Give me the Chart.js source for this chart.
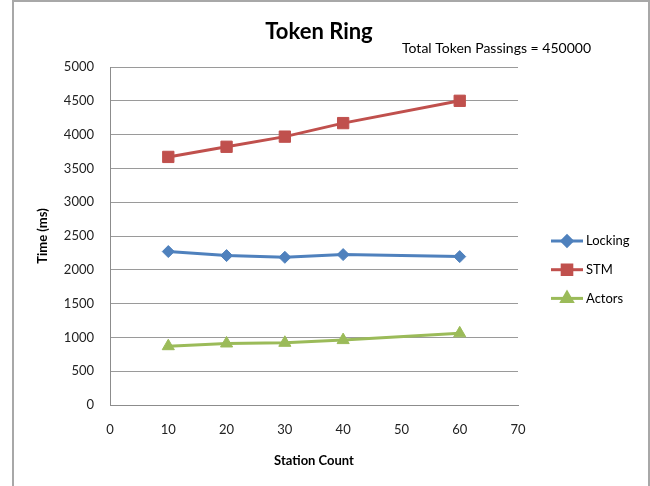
<!DOCTYPE html>
<html>
<head>
<meta charset="utf-8">
<script src="https://cdn.jsdelivr.net/npm/chart.js@4.4.1/dist/chart.umd.min.js"></script>
<style>
  html, body { margin: 0; padding: 0; background: #fff; }
  #wrap { position: relative; width: 650px; height: 486px; overflow: hidden; }
  #frame {
    position: absolute; left: 12px; top: 0; width: 638px; height: 520px;
    border: 2px solid #a8a8a8; box-sizing: border-box; pointer-events: none;
  }
</style>
</head>
<body>
<div id="wrap">
  <canvas id="chart" width="650" height="486"></canvas>
  <div id="frame"></div>
</div>
<script>
// data
const stationCount = [10, 20, 30, 40, 60];
const locking = [2270, 2210, 2185, 2225, 2195];
const stm = [3670, 3820, 3970, 4170, 4500];
const actors = [870, 910, 920, 960, 1060];

const seriesNames = ["Locking", "STM", "Actors"];
const seriesColors = ["#4f81bd", "#c0504d", "#9bbb59"];
const seriesMarkers = ["rectRot", "rect", "triangle"];
const markerSizes = [6, 8, 7];

const FONT = 'Lato, "Open Sans", sans-serif';

const toPoints = (vals) => stationCount.map((x, i) => ({ x, y: vals[i] }));

const makeSet = (i, vals) => ({
  label: seriesNames[i],
  data: toPoints(vals),
  borderColor: seriesColors[i],
  backgroundColor: seriesColors[i],
  borderWidth: 3,
  pointStyle: seriesMarkers[i],
  pointRadius: markerSizes[i],
  pointBorderWidth: 1,
  pointBorderColor: seriesColors[i],
  pointBackgroundColor: seriesColors[i],
  tension: 0,
});

// title + side text + legend, drawn on the canvas
const annotations = {
  id: "annotations",
  afterDraw(chart) {
    const { ctx, chartArea: ca } = chart;
    ctx.save();
    ctx.fillStyle = "#000";
    ctx.textBaseline = "middle";

    ctx.font = "bold 22px " + FONT;
    ctx.textAlign = "center";
    ctx.fillText("Token Ring", 319, 32);

    ctx.font = "14px " + FONT;
    ctx.textAlign = "left";
    ctx.fillText("Total Token Passings = 450000", 402, 48);

    // legend
    chart.data.datasets.forEach((ds, i) => {
      const y = 241 + i * 28.7;
      const x0 = ca.right + 33;
      const x1 = ca.right + 65;
      ctx.strokeStyle = ds.borderColor;
      ctx.lineWidth = 3;
      ctx.beginPath();
      ctx.moveTo(x0, y);
      ctx.lineTo(x1, y);
      ctx.stroke();
      ctx.fillStyle = ds.borderColor;
      Chart.helpers.drawPoint(ctx, {
        pointStyle: ds.pointStyle,
        radius: ds.pointRadius * 0.85,
        rotation: 0,
        borderWidth: 1,
      }, (x0 + x1) / 2, y);
      ctx.fillStyle = "#000";
      ctx.font = "13px " + FONT;
      ctx.fillText(ds.label, x1 + 3, y);
    });
    ctx.restore();
  },
};

new Chart(document.getElementById("chart"), {
  type: "line",
  data: {
    datasets: [makeSet(0, locking), makeSet(1, stm), makeSet(2, actors)],
  },
  options: {
    responsive: false,
    animation: false,
    layout: { padding: { left: 0, right: 132, top: 67, bottom: 0 } },
    plugins: {
      legend: { display: false },
      tooltip: { enabled: false },
      title: { display: false },
    },
    scales: {
      x: {
        type: "linear",
        min: 0,
        max: 70,
        ticks: { stepSize: 10, padding: 17, color: "#222", font: { family: FONT, size: 13 } },
        grid: { display: false, drawTicks: false },
        border: { color: "#8c8c8c", width: 1 },
        title: {
          display: true,
          text: "Station Count",
          color: "#000",
          font: { family: FONT, size: 13, weight: "bold" },
          padding: { top: 0, bottom: 17 },
        },
        afterFit(s) { s.height = 81; },
      },
      y: {
        min: 0,
        max: 5000,
        ticks: {
          stepSize: 500,
          padding: 16,
          color: "#222",
          font: { family: FONT, size: 13 },
          callback: (v) => String(v),
        },
        grid: { color: "#9a9a9a", lineWidth: 1, drawTicks: false },
        border: { color: "#8c8c8c", width: 1 },
        title: {
          display: true,
          text: "Time (ms)",
          color: "#000",
          font: { family: FONT, size: 13, weight: "bold" },
          padding: { top: 35, bottom: 0 },
        },
        afterFit(s) { s.width = 110; },
      },
    },
  },
  plugins: [annotations],
});
</script>
</body>
</html>
